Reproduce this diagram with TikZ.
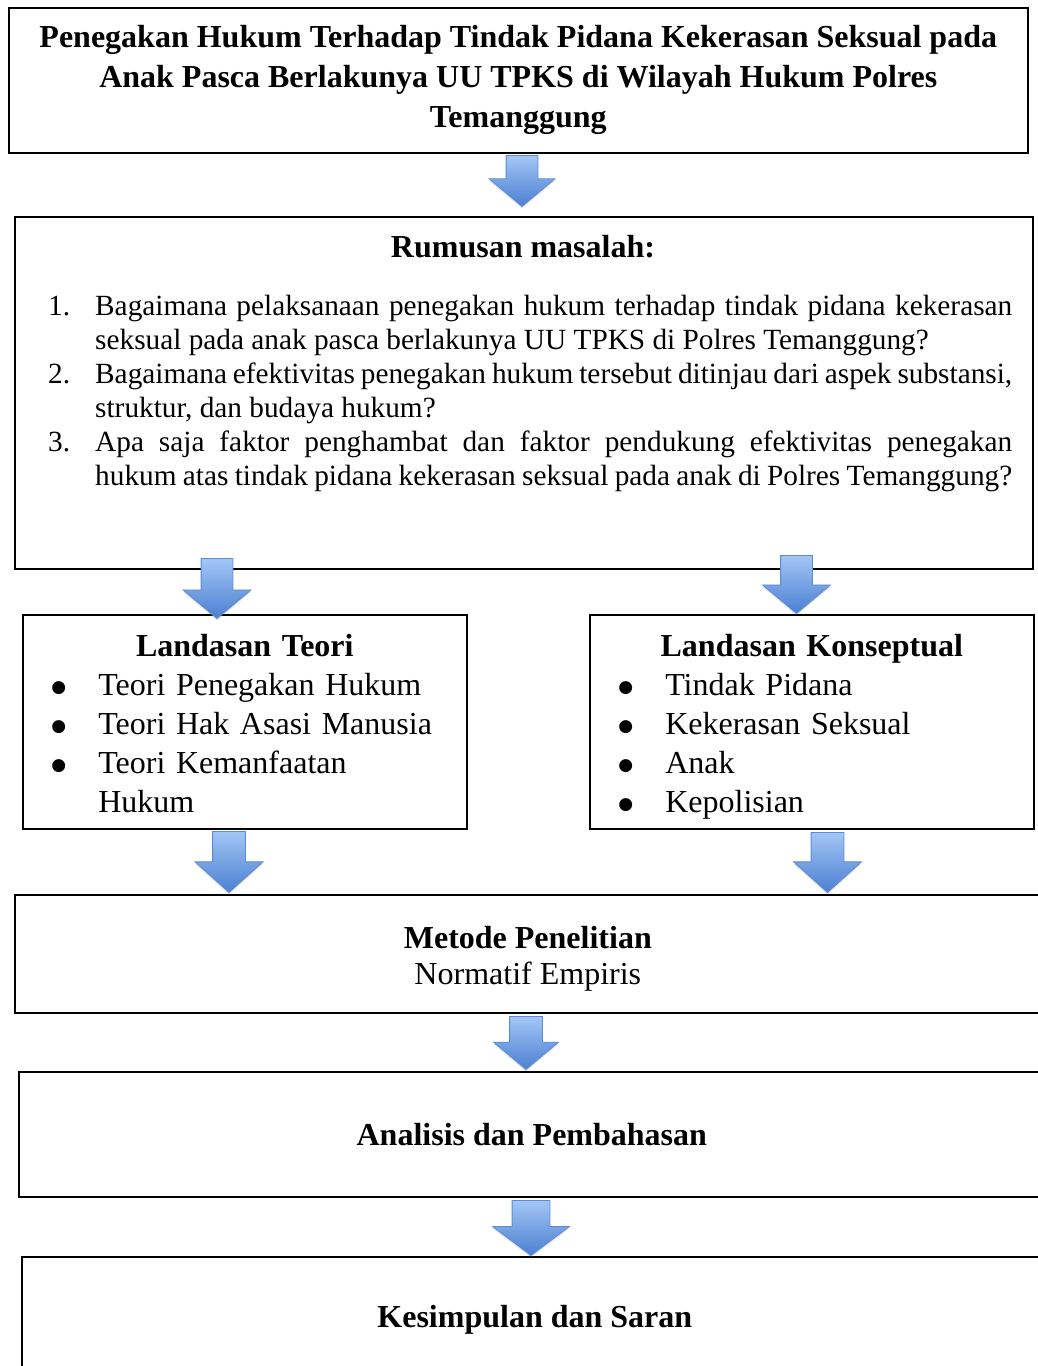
\documentclass[tikz,border=0pt]{standalone}
\usepackage{fontspec}
\setmainfont{Liberation Serif}
\newfontfamily\simbol{DejaVu Sans}
\usetikzlibrary{shapes.arrows,shadows}

\definecolor{panahatas}{HTML}{A3C6F5}
\definecolor{panahbawah}{HTML}{4B80D2}
\definecolor{panahtepi}{HTML}{5B8BD4}

\newcommand{\hurufjudul}{\fontsize{32}{40}\selectfont\bfseries}
\newcommand{\hurufisi}{\fontsize{29.3}{34}\selectfont}
\newcommand{\hurufdasar}{\fontsize{32}{39}\selectfont}
\newcommand{\hurufmetode}{\fontsize{32}{36}\selectfont}
\newcommand{\titik}{\raisebox{2.5pt}{\simbol\fontsize{17}{20}\selectfont ●}}

\newenvironment{daftar}[1]{\begin{list}{}{\setlength{\leftmargin}{#1}\setlength{\labelwidth}{#1}%
  \setlength{\labelsep}{0pt}\setlength{\itemsep}{0pt}\setlength{\parsep}{0pt}%
  \setlength{\topsep}{0pt}\setlength{\partopsep}{0pt}\renewcommand{\makelabel}[1]{##1\hfil}}}%
  {\end{list}}

\begin{document}
\begin{tikzpicture}[x=1pt,y=-1pt,
    kotak/.style={rectangle,draw=black,line width=1.6pt,fill=white},
    isian/.style={anchor=north,inner sep=0pt,text width=387pt,align=left,font=\hurufdasar},
    panah/.style={single arrow,shape border rotate=270,draw=panahtepi,line width=0.8pt,
        top color=panahatas,bottom color=panahbawah,inner sep=15.5pt,
        single arrow head extend=17pt,single arrow tip angle=100,anchor=tail,
        drop shadow={opacity=0.25,shadow xshift=0pt,shadow yshift=-2pt}}
]
\useasboundingbox (0,0) rectangle (1037,1366);

% Judul
\node[kotak,anchor=north west,text width=975pt,inner xsep=22pt,minimum height=145pt,
    align=flush center,font=\hurufjudul] (judul) at (8,7)
    {Penegakan Hukum Terhadap Tindak Pidana Kekerasan Seksual pada Anak Pasca Berlakunya UU TPKS di Wilayah Hukum Polres Temanggung};

% Rumusan masalah
\node[kotak,anchor=north west,minimum width=1018pt,minimum height=352pt] (rumusan) at (14,216) {};
\node[font=\hurufisi\bfseries\fontsize{32}{36}\selectfont] (masalah) at (523,247) {Rumusan masalah:};
\node[anchor=north west,inner sep=0pt,text width=964pt,align=justify,font=\hurufisi] (soal) at (48,281)
    {\hyphenpenalty=10000\exhyphenpenalty=10000\tolerance=9999
    \begin{daftar}{47pt}
    \item[1.] Bagaimana pelaksanaan penegakan hukum terhadap tindak pidana kekerasan seksual pada anak pasca berlakunya UU TPKS di Polres Temanggung?
    \item[2.] Bagaimana efektivitas penegakan hukum tersebut ditinjau dari aspek substansi, struktur, dan budaya hukum?
    \item[3.] Apa saja faktor penghambat dan faktor pendukung efektivitas penegakan\linebreak hukum atas tindak pidana kekerasan seksual pada anak di Polres Temanggung?
    \end{daftar}};

% Landasan
\node[kotak,anchor=north west,minimum width=444pt,minimum height=214pt] (teori) at (22,614) {};
\node[isian] (teoriisi) at ([yshift=-20pt]teori.north)
    {\centerline{\bfseries Landasan Teori}
    \begin{daftar}{47pt}
    \item[\titik] Teori Penegakan Hukum
    \item[\titik] Teori Hak Asasi Manusia
    \item[\titik] Teori Kemanfaatan Hukum
    \end{daftar}};
\node[kotak,anchor=north west,minimum width=444pt,minimum height=214pt] (konsep) at (589,614) {};
\node[isian] (konsepisi) at ([yshift=-20pt]konsep.north)
    {\centerline{\bfseries Landasan Konseptual}
    \begin{daftar}{47pt}
    \item[\titik] Tindak Pidana
    \item[\titik] Kekerasan Seksual
    \item[\titik] Anak
    \item[\titik] Kepolisian
    \end{daftar}};

% Metode, analisis, kesimpulan
\node[kotak,anchor=north west,minimum width=1026pt,minimum height=118pt,align=flush center,
    text height=68pt,font=\hurufmetode] (metode) at (14,894) {\textbf{Metode Penelitian}\\Normatif Empiris};
\node[kotak,anchor=north west,minimum width=1026pt,minimum height=125pt,
    font=\hurufmetode\bfseries] (analisis) at (18,1071) {Analisis dan Pembahasan};
\node[kotak,anchor=north west,minimum width=1026pt,minimum height=125pt,
    font=\hurufmetode\bfseries] (simpulan) at (21,1256) {Kesimpulan dan Saran};

% Panah
\node[panah,minimum height=51pt] (panah1) at (522,155) {};
\node[panah,minimum height=60pt,single arrow head extend=18pt] (panah2) at (217,558) {};
\node[panah,minimum height=58pt,single arrow head extend=18pt] (panah3) at (796.5,555) {};
\node[panah,minimum height=61pt,inner sep=16pt,single arrow head extend=17.5pt,single arrow tip angle=96] (panah4) at (229,831) {};
\node[panah,minimum height=60pt,inner sep=16pt,single arrow head extend=17.5pt,single arrow tip angle=96] (panah5) at (827.5,832) {};
\node[panah,minimum height=53pt,inner sep=16pt,single arrow head extend=16pt] (panah6) at (526,1016) {};
\node[panah,minimum height=55pt,inner sep=18.5pt,single arrow head extend=19.5pt,
    single arrow tip angle=106] (panah7) at (531,1200) {};

\end{tikzpicture}
\end{document}
